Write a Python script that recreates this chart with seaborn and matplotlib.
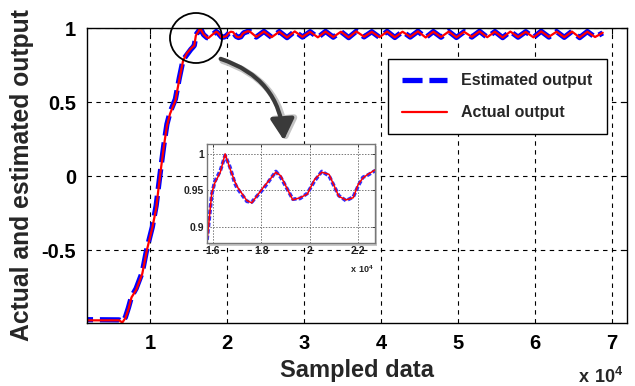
import numpy as np
import pandas as pd
import matplotlib
matplotlib.use("Agg")
import matplotlib.pyplot as plt
import seaborn as sns
from matplotlib.patches import Ellipse, FancyArrowPatch, Rectangle

# ---------------- data (sample index in units of 1e4) ----------------
samples_e4 = [0.00, 0.60, 0.64, 0.68, 0.72, 0.76, 0.82, 0.90, 0.96, 1.03,
              1.08, 1.13, 1.18, 1.22, 1.26, 1.33, 1.38, 1.43, 1.48, 1.53,
              1.56, 1.575, 1.595, 1.607, 1.63, 1.65, 1.67, 1.69, 1.70, 1.74,
              1.76, 1.81, 1.86, 1.88, 1.93, 1.96, 1.99, 2.02, 2.05, 2.08,
              2.12, 2.15, 2.18, 2.20, 2.22, 2.24, 2.27, 2.30,
              2.38, 2.48, 2.58, 2.68, 2.78, 2.88, 2.98, 3.08, 3.18, 3.28,
              3.38, 3.48, 3.58, 3.68, 3.78, 3.88, 3.98, 4.08, 4.18, 4.28,
              4.38, 4.48, 4.58, 4.68, 4.78, 4.88, 4.98, 5.08, 5.18, 5.28,
              5.38, 5.48, 5.58, 5.68, 5.78, 5.88, 5.98, 6.08, 6.18, 6.28,
              6.38, 6.48, 6.58, 6.68, 6.78, 6.88]

actual_output = [-0.975, -0.975, -0.990, -0.960, -0.900, -0.820, -0.770, -0.660, -0.500, -0.350,
                 -0.220, 0.000, 0.200, 0.340, 0.420, 0.510, 0.650, 0.780, 0.830, 0.860,
                 0.875, 0.880, 0.947, 0.960, 0.975, 1.000, 0.980, 0.962, 0.955, 0.936,
                 0.933, 0.955, 0.975, 0.970, 0.937, 0.940, 0.945, 0.965, 0.975, 0.972,
                 0.942, 0.937, 0.940, 0.958, 0.967, 0.972, 0.978, 0.975,
                 0.940, 0.976, 0.938, 0.975, 0.936, 0.977, 0.940, 0.974, 0.937, 0.976,
                 0.939, 0.975, 0.936, 0.977, 0.941, 0.974, 0.938, 0.976, 0.937, 0.975,
                 0.940, 0.977, 0.936, 0.975, 0.939, 0.976, 0.937, 0.974, 0.940, 0.977,
                 0.938, 0.975, 0.936, 0.976, 0.939, 0.974, 0.937, 0.977, 0.940, 0.975,
                 0.938, 0.976, 0.936, 0.975, 0.939, 0.968]

estimated_output = [-0.970, -0.972, -0.985, -0.955, -0.890, -0.815, -0.760, -0.650, -0.490, -0.345,
                    -0.200, 0.010, 0.210, 0.350, 0.430, 0.520, 0.660, 0.785, 0.820, 0.855,
                    0.872, 0.882, 0.945, 0.962, 0.977, 0.998, 0.982, 0.960, 0.953, 0.935,
                    0.934, 0.953, 0.976, 0.968, 0.938, 0.939, 0.946, 0.963, 0.976, 0.970,
                    0.943, 0.936, 0.941, 0.956, 0.968, 0.971, 0.977, 0.976,
                    0.939, 0.977, 0.937, 0.976, 0.935, 0.978, 0.939, 0.975, 0.936, 0.977,
                    0.938, 0.976, 0.935, 0.978, 0.940, 0.975, 0.937, 0.977, 0.936, 0.976,
                    0.939, 0.978, 0.935, 0.976, 0.938, 0.977, 0.936, 0.975, 0.939, 0.978,
                    0.937, 0.976, 0.935, 0.977, 0.938, 0.975, 0.936, 0.978, 0.939, 0.976,
                    0.937, 0.977, 0.935, 0.976, 0.938, 0.967]

main_xticks_e4 = [1, 2, 3, 4, 5, 6, 7]
main_yticks = [-0.5, 0, 0.5, 1]
inset_xticks_e4 = [1.6, 1.8, 2.0, 2.2]
inset_yticks = [0.9, 0.95, 1.0]
legend_labels = ["Estimated output", "Actual output"]

# ---------------- style ----------------
sns.set_style("white")
plt.rcParams["font.family"] = ["Liberation Sans", "DejaVu Sans"]
plt.rcParams["font.weight"] = "bold"
plt.rcParams["mathtext.fontset"] = "custom"
plt.rcParams["mathtext.rm"] = "Liberation Sans:bold"
plt.rcParams["mathtext.bf"] = "Liberation Sans:bold"

df = pd.DataFrame({
    "sample": np.array(samples_e4) * 1e4,
    "actual": actual_output,
    "estimated": estimated_output,
})

W, H = 635, 386
fig = plt.figure(figsize=(W / 100, H / 100), dpi=100)
fig.patch.set_facecolor("white")


def fx(px):
    return px / W


def fy(py):
    return 1 - py / H


# ---------------- main axes ----------------
ax = fig.add_axes([fx(87), fy(323), fx(627) - fx(87), fy(28) - fy(323)])
sns.lineplot(data=df, x="sample", y="estimated", ax=ax, color="#0000ff",
             linewidth=3.8, linestyle=(0, (3.8, 1.3)), estimator=None,
             sort=False, label=legend_labels[0])
sns.lineplot(data=df, x="sample", y="actual", ax=ax, color="#ff0000",
             linewidth=1.6, estimator=None, sort=False, label=legend_labels[1])

ax.set_xlim(1820, 71950)
ax.set_ylim(-0.993, 1.0)
ax.set_xticks([t * 1e4 for t in main_xticks_e4])
ax.set_xticklabels([f"{t:g}" for t in main_xticks_e4])
ax.set_yticks(main_yticks)
ax.set_yticklabels([f"{t:g}" for t in main_yticks])
ax.grid(True, color="black", linestyle=(0, (4, 4)), linewidth=0.8)
ax.set_axisbelow(True)
ax.tick_params(direction="in", length=4, width=0.8, labelsize=14.5,
               top=True, right=True, pad=8, colors="black")
for s in ax.spines.values():
    s.set_color("black")
    s.set_linewidth(1.0)
ax.set_xlabel("Sampled data", fontsize=17, fontweight="bold", labelpad=4)
ax.set_ylabel("Actual and estimated output", fontsize=17.8, fontweight="bold", labelpad=5)

leg = ax.legend(loc="upper right", bbox_to_anchor=(0.963, 0.895), borderaxespad=0,
                fontsize=11.5, frameon=True, fancybox=False, edgecolor="black",
                framealpha=1, handlelength=2.8, handletextpad=0.9,
                labelspacing=1.05, borderpad=0.9)
leg.get_frame().set_linewidth(1.0)
for t in leg.get_texts():
    t.set_fontweight("bold")

fig.text(fx(578), fy(383), r"$\mathbf{x\ 10^{4}}$", fontsize=13, ha="left", va="baseline")

# ---------------- zoom circle and arrow ----------------
circ = Ellipse((fx(196), fy(38)), 52 / W, 50 / H, transform=fig.transFigure,
               fill=False, edgecolor="black", linewidth=1.3, zorder=6)
fig.patches.append(circ)
arrow_shadow = FancyArrowPatch((fx(218) + 2 / W, fy(58) - 2 / H), (fx(284) + 2 / W, fy(143) - 2 / H),
                               transform=fig.transFigure, connectionstyle="arc3,rad=-0.35",
                               arrowstyle="-|>,head_length=0.8,head_width=0.45",
                               mutation_scale=16, color="#c4c4c4", linewidth=4.5, zorder=5.5)
fig.patches.append(arrow_shadow)
arrow = FancyArrowPatch((fx(218), fy(58)), (fx(284), fy(143)),
                        transform=fig.transFigure, connectionstyle="arc3,rad=-0.35",
                        arrowstyle="-|>,head_length=0.8,head_width=0.45",
                        mutation_scale=16, color="#3a3a3a", linewidth=3.0, zorder=6)
fig.patches.append(arrow)

# ---------------- inset ----------------
shadow = Rectangle((fx(209), fy(246)), fx(377) - fx(209), fy(146) - fy(246),
                   transform=fig.transFigure, facecolor="#c8c8c8", edgecolor="none", zorder=4)
fig.patches.append(shadow)
axi = fig.add_axes([fx(207), fy(243), fx(375) - fx(207), fy(144) - fy(243)], zorder=5)
axi.set_facecolor("white")
sns.lineplot(data=df, x="sample", y="estimated", ax=axi, color="#3030ff",
             linewidth=2.6, linestyle=(0, (1.2, 0.6)), estimator=None, sort=False, legend=False)
sns.lineplot(data=df, x="sample", y="actual", ax=axi, color="#ff0000",
             linewidth=1.1, estimator=None, sort=False, legend=False)
axi.set_xlim(15750, 22700)
axi.set_ylim(0.878, 1.0136)
axi.set_xticks([t * 1e4 for t in inset_xticks_e4])
axi.set_xticklabels([f"{t:g}" for t in inset_xticks_e4])
axi.set_yticks(inset_yticks)
axi.set_yticklabels([f"{t:g}" for t in inset_yticks])
axi.grid(True, color="#777777", linestyle=(0, (1.5, 1.5)), linewidth=0.7)
axi.set_axisbelow(True)
axi.tick_params(direction="in", length=2, width=0.6, labelsize=7.5, pad=2,
                top=True, right=True, colors="#222222")
for s in axi.spines.values():
    s.set_color("#777777")
    s.set_linewidth(1.0)
axi.set_xlabel("")
axi.set_ylabel("")
fig.text(fx(350), fy(273), r"$\mathbf{x\ 10^{4}}$", fontsize=6.5, ha="left", va="baseline",
         color="#222222")

fig.savefig("out.png", dpi=100, facecolor="white")
